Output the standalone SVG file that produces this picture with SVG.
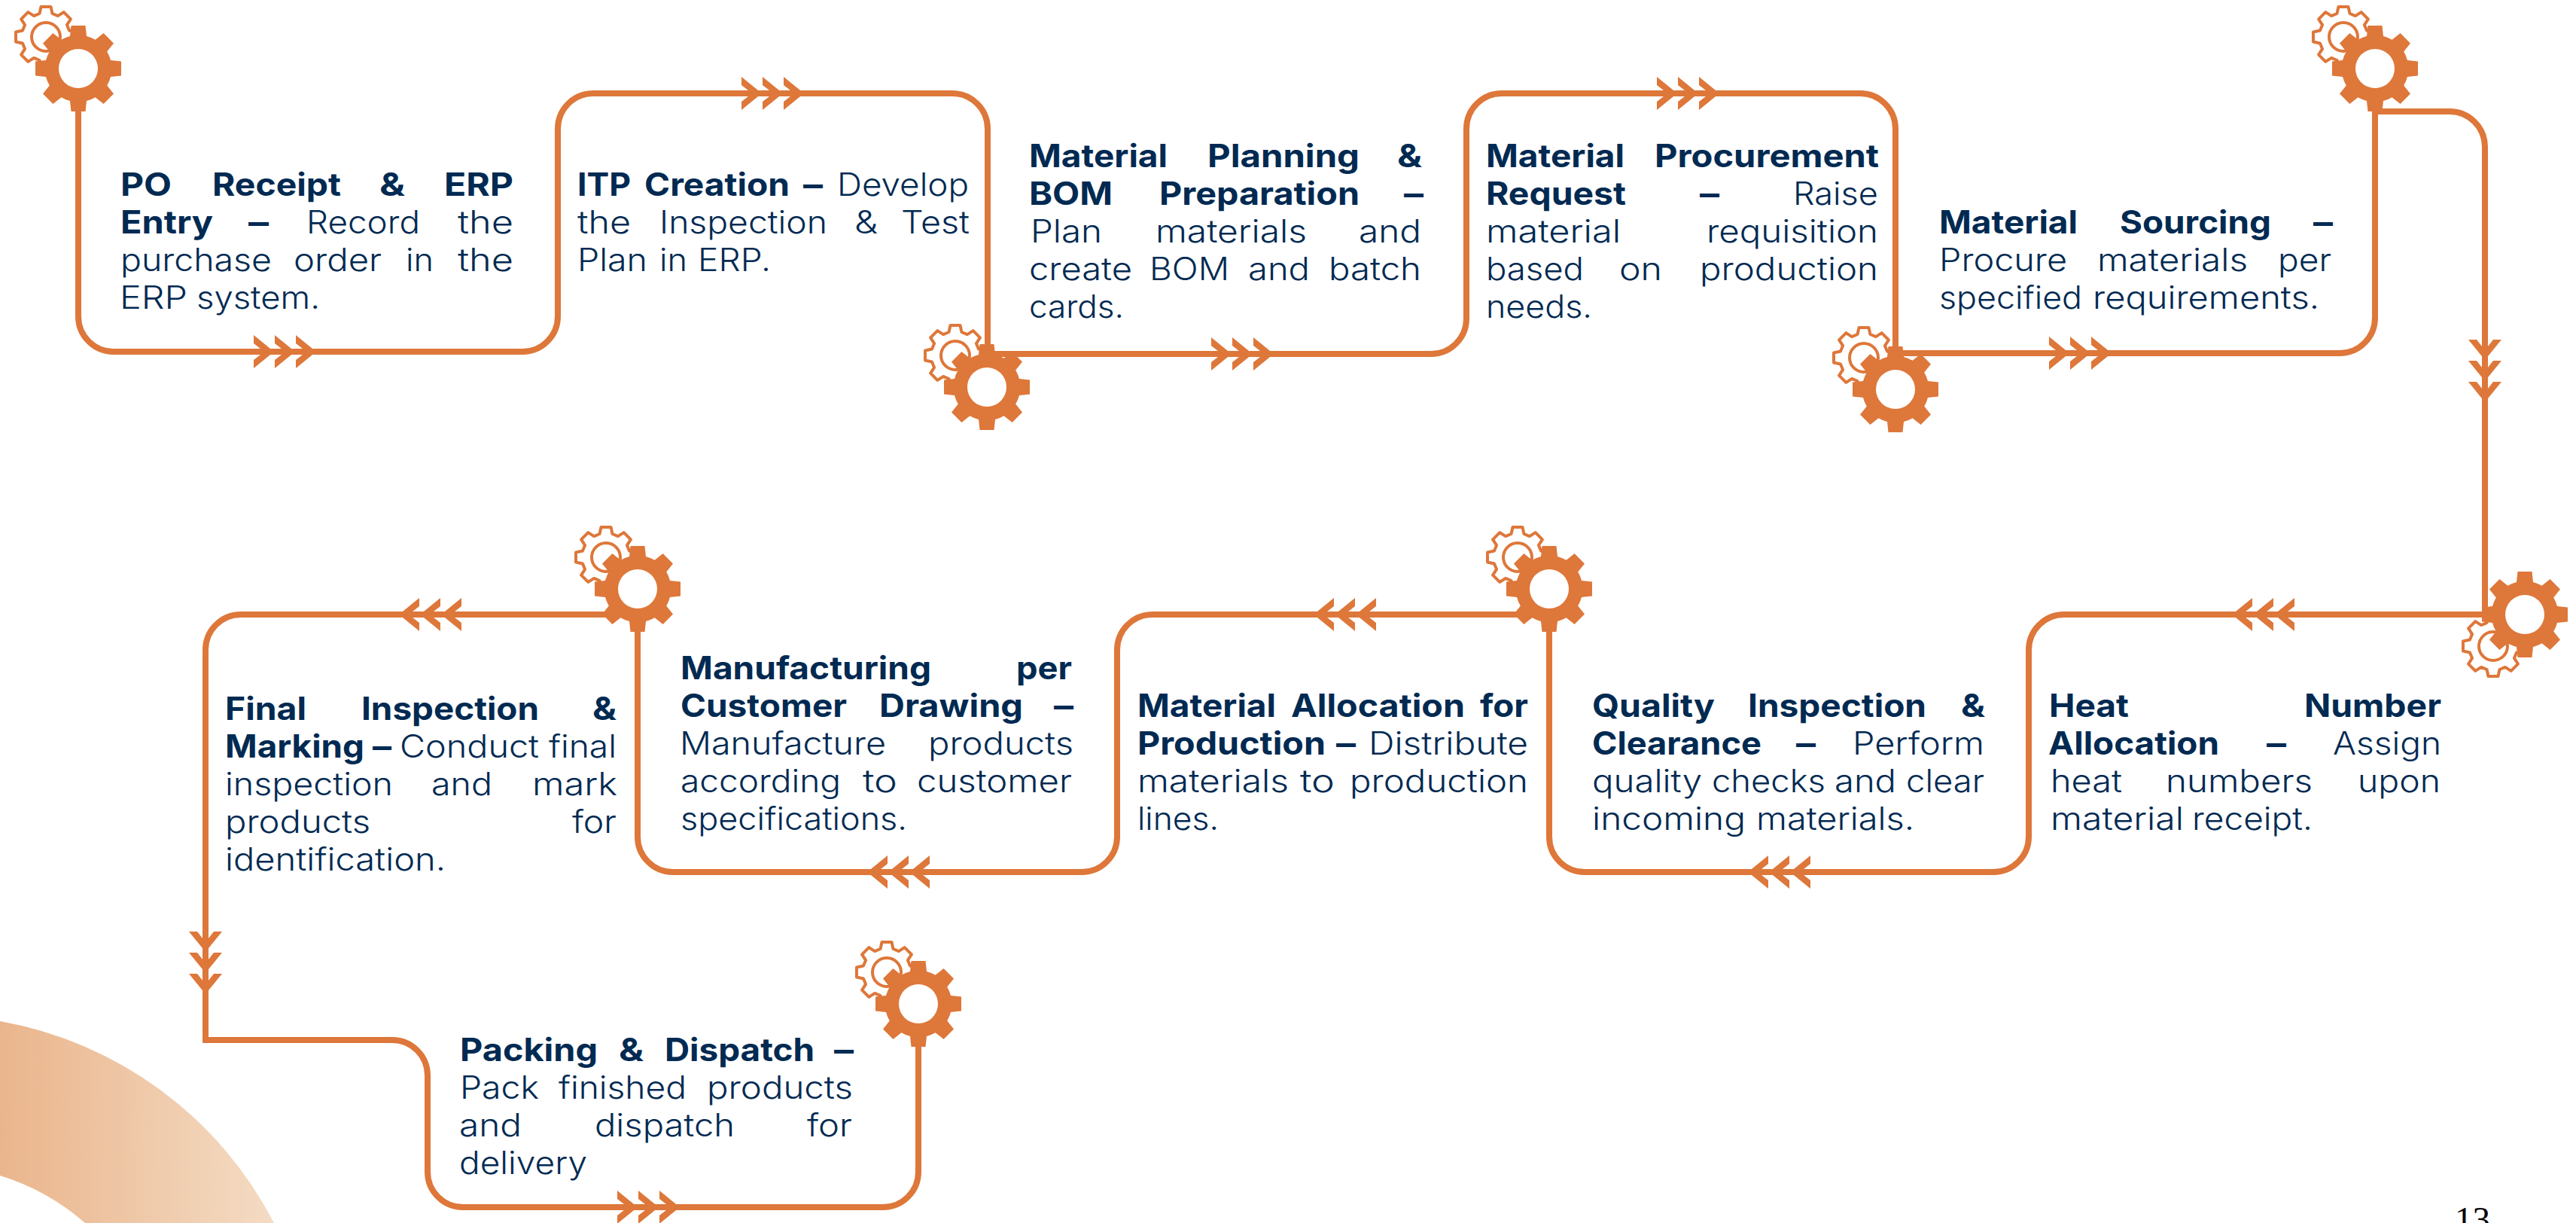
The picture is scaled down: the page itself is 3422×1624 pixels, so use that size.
<svg xmlns="http://www.w3.org/2000/svg" width="3422" height="1624" viewBox="0 0 3422 1624">
<style>
text{font-family:"Inter","Open Sans","Liberation Sans",sans-serif;font-size:42px;font-weight:300;fill:#012a52}
.b{font-weight:700}
.line{fill:none;stroke:#de773a;stroke-width:8}
.o{fill:#de773a}
.sg{fill:none;stroke:#de773a;stroke-width:4;stroke-linejoin:round}
text.pg{font-family:"Liberation Serif",serif;font-size:47px;font-weight:400;fill:#000}
</style>
<defs>
<linearGradient id="arcg" gradientUnits="userSpaceOnUse" x1="0" y1="0" x2="360" y2="0"><stop offset="0" stop-color="#eab58c"/><stop offset="1" stop-color="#f4dbc3"/></linearGradient>
<g id="gear"><circle r="27" fill="#fff"/><path class="o" fill-rule="evenodd" d="M-11,-43L-9.5,-57 9.5,-57 11,-43A44.4,44.4 0 0 1 22.6,-38.2L33.6,-47 47,-33.6 38.2,-22.6A44.4,44.4 0 0 1 43,-11L57,-9.5 57,9.5 43,11A44.4,44.4 0 0 1 38.2,22.6L47,33.6 33.6,47 22.6,38.2A44.4,44.4 0 0 1 11,43L9.5,57 -9.5,57 -11,43A44.4,44.4 0 0 1 -22.6,38.2L-33.6,47 -47,33.6 -38.2,22.6A44.4,44.4 0 0 1 -43,11L-57,9.5 -57,-9.5 -43,-11A44.4,44.4 0 0 1 -38.2,-22.6L-47,-33.6 -33.6,-47 -22.6,-38.2A44.4,44.4 0 0 1 -11,-43ZM26,0A26,26 0 1 0 -26,0A26,26 0 1 0 26,0Z"/></g>
<g id="sgear"><path class="sg" d="M-8.5,-31L-6.5,-40 6.5,-40 8.5,-31 15.9,-27.9 23.7,-32.9 32.9,-23.7 27.9,-15.9 31,-8.5 40,-6.5 40,6.5 31,8.5 27.9,15.9 32.9,23.7 23.7,32.9 15.9,27.9 8.5,31 6.5,40 -6.5,40 -8.5,31 -15.9,27.9 -23.7,32.9 -32.9,23.7 -27.9,15.9 -31,8.5 -40,6.5 -40,-6.5 -31,-8.5 -27.9,-15.9 -32.9,-23.7 -23.7,-32.9 -15.9,-27.9Z"/><circle class="sg" r="19"/></g>
<path id="ch" class="o" d="M0,-22L27,0 0,22 0,11 14,0 0,-11Z"/>
<g id="chev"><use href="#ch"/><use href="#ch" x="28"/><use href="#ch" x="56"/></g>
</defs>
<path id="bgarc" fill="url(#arcg)" d="M0,1356A510,510 0 0 1 364,1624H113A310,310 0 0 0 0,1561Z"/>
<g id="connectors">
<path class="line" d="M104,140V420A47,47 0 0 0 151,467H694A47,47 0 0 0 741,420V171A47,47 0 0 1 788,124H1265A47,47 0 0 1 1312,171V470H1901A47,47 0 0 0 1948,423V171A47,47 0 0 1 1995,124H2471A47,47 0 0 1 2518,171V469H3108A47,47 0 0 0 3155,422V90"/>
<path class="line" d="M3155,148H3254A47,47 0 0 1 3301,195V816"/>
<path class="line" d="M3301,816H2742A47,47 0 0 0 2695,863V1111A47,47 0 0 1 2648,1158H2105A47,47 0 0 1 2058,1111V816H1531A47,47 0 0 0 1484,863V1111A47,47 0 0 1 1437,1158H894A47,47 0 0 1 847,1111V816H320A47,47 0 0 0 273,863V1381H521A47,47 0 0 1 568,1428V1556A47,47 0 0 0 615,1603H1173A47,47 0 0 0 1220,1556V1380"/>
<use href="#chev" x="337" y="467"/>
<use href="#chev" x="985" y="124"/>
<use href="#chev" x="1609" y="470"/>
<use href="#chev" x="2201" y="124"/>
<use href="#chev" x="2722" y="469"/>
<use href="#chev" transform="translate(3301,451) rotate(90)"/>
<use href="#chev" transform="translate(3048,816) rotate(180)"/>
<use href="#chev" transform="translate(2405,1158) rotate(180)"/>
<use href="#chev" transform="translate(1828,816) rotate(180)"/>
<use href="#chev" transform="translate(1235,1158) rotate(180)"/>
<use href="#chev" transform="translate(613,816) rotate(180)"/>
<use href="#chev" transform="translate(273,1237) rotate(90)"/>
<use href="#chev" x="820" y="1603"/>
</g>
<g id="node1"><use href="#sgear" x="61" y="49"/><use href="#gear" x="104" y="91"/>
<text><tspan class="b" x="160" y="260" textLength="68" lengthAdjust="spacingAndGlyphs">PO</tspan> <tspan class="b" x="282" y="260" textLength="171" lengthAdjust="spacingAndGlyphs">Receipt</tspan> <tspan class="b" x="504" y="260" textLength="34" lengthAdjust="spacingAndGlyphs">&amp;</tspan> <tspan class="b" x="590" y="260" textLength="92" lengthAdjust="spacingAndGlyphs">ERP</tspan> <tspan class="b" x="160" y="310" textLength="123" lengthAdjust="spacingAndGlyphs">Entry</tspan> <tspan class="b" x="330" y="310" textLength="27" lengthAdjust="spacingAndGlyphs">–</tspan> <tspan x="407" y="310" textLength="151" lengthAdjust="spacingAndGlyphs">Record</tspan> <tspan x="608" y="310" textLength="74" lengthAdjust="spacingAndGlyphs">the</tspan> <tspan x="160" y="360" textLength="201" lengthAdjust="spacingAndGlyphs">purchase</tspan> <tspan x="390" y="360" textLength="117" lengthAdjust="spacingAndGlyphs">order</tspan> <tspan x="539" y="360" textLength="37" lengthAdjust="spacingAndGlyphs">in</tspan> <tspan x="608" y="360" textLength="74" lengthAdjust="spacingAndGlyphs">the</tspan> <tspan x="159" y="410" textLength="90" lengthAdjust="spacingAndGlyphs">ERP</tspan> <tspan x="261" y="410" textLength="164" lengthAdjust="spacingAndGlyphs">system.</tspan></text></g>
<g id="node2">
<text><tspan class="b" x="767" y="260" textLength="71" lengthAdjust="spacingAndGlyphs">ITP</tspan> <tspan class="b" x="856" y="260" textLength="193" lengthAdjust="spacingAndGlyphs">Creation</tspan> <tspan class="b" x="1067" y="260" textLength="26" lengthAdjust="spacingAndGlyphs">–</tspan> <tspan x="1112" y="260" textLength="175" lengthAdjust="spacingAndGlyphs">Develop</tspan> <tspan x="767" y="310" textLength="71" lengthAdjust="spacingAndGlyphs">the</tspan> <tspan x="876" y="310" textLength="223" lengthAdjust="spacingAndGlyphs">Inspection</tspan> <tspan x="1135" y="310" textLength="31" lengthAdjust="spacingAndGlyphs">&amp;</tspan> <tspan x="1197" y="310" textLength="91" lengthAdjust="spacingAndGlyphs">Test</tspan> <tspan x="767" y="360" textLength="93" lengthAdjust="spacingAndGlyphs">Plan</tspan> <tspan x="876" y="360" textLength="37" lengthAdjust="spacingAndGlyphs">in</tspan> <tspan x="927" y="360" textLength="97" lengthAdjust="spacingAndGlyphs">ERP.</tspan></text></g>
<g id="node3"><use href="#sgear" x="1269" y="472"/><use href="#gear" x="1311" y="514"/>
<text><tspan class="b" x="1367" y="222" textLength="184" lengthAdjust="spacingAndGlyphs">Material</tspan> <tspan class="b" x="1604" y="222" textLength="202" lengthAdjust="spacingAndGlyphs">Planning</tspan> <tspan class="b" x="1856" y="222" textLength="33" lengthAdjust="spacingAndGlyphs">&amp;</tspan> <tspan class="b" x="1367" y="272" textLength="111" lengthAdjust="spacingAndGlyphs">BOM</tspan> <tspan class="b" x="1540" y="272" textLength="266" lengthAdjust="spacingAndGlyphs">Preparation</tspan> <tspan class="b" x="1865" y="272" textLength="26" lengthAdjust="spacingAndGlyphs">–</tspan> <tspan x="1369" y="322" textLength="95" lengthAdjust="spacingAndGlyphs">Plan</tspan> <tspan x="1535" y="322" textLength="201" lengthAdjust="spacingAndGlyphs">materials</tspan> <tspan x="1805" y="322" textLength="83" lengthAdjust="spacingAndGlyphs">and</tspan> <tspan x="1367" y="372" textLength="137" lengthAdjust="spacingAndGlyphs">create</tspan> <tspan x="1527" y="372" textLength="106" lengthAdjust="spacingAndGlyphs">BOM</tspan> <tspan x="1658" y="372" textLength="82" lengthAdjust="spacingAndGlyphs">and</tspan> <tspan x="1765" y="372" textLength="123" lengthAdjust="spacingAndGlyphs">batch</tspan> <tspan x="1367" y="422" textLength="126" lengthAdjust="spacingAndGlyphs">cards.</tspan></text></g>
<g id="node4"><use href="#sgear" x="2476" y="475"/><use href="#gear" x="2518" y="517"/>
<text><tspan class="b" x="1974" y="222" textLength="184" lengthAdjust="spacingAndGlyphs">Material</tspan> <tspan class="b" x="2198" y="222" textLength="298" lengthAdjust="spacingAndGlyphs">Procurement</tspan> <tspan class="b" x="1974" y="272" textLength="186" lengthAdjust="spacingAndGlyphs">Request</tspan> <tspan class="b" x="2258" y="272" textLength="26" lengthAdjust="spacingAndGlyphs">–</tspan> <tspan x="2382" y="272" textLength="113" lengthAdjust="spacingAndGlyphs">Raise</tspan> <tspan x="1974" y="322" textLength="179" lengthAdjust="spacingAndGlyphs">material</tspan> <tspan x="2267" y="322" textLength="228" lengthAdjust="spacingAndGlyphs">requisition</tspan> <tspan x="1974" y="372" textLength="130" lengthAdjust="spacingAndGlyphs">based</tspan> <tspan x="2151" y="372" textLength="57" lengthAdjust="spacingAndGlyphs">on</tspan> <tspan x="2258" y="372" textLength="237" lengthAdjust="spacingAndGlyphs">production</tspan> <tspan x="1974" y="422" textLength="141" lengthAdjust="spacingAndGlyphs">needs.</tspan></text></g>
<g id="node5"><use href="#sgear" x="3113" y="49"/><use href="#gear" x="3155" y="91"/>
<text><tspan class="b" x="2576" y="310" textLength="184" lengthAdjust="spacingAndGlyphs">Material</tspan> <tspan class="b" x="2816" y="310" textLength="201" lengthAdjust="spacingAndGlyphs">Sourcing</tspan> <tspan class="b" x="3073" y="310" textLength="26" lengthAdjust="spacingAndGlyphs">–</tspan> <tspan x="2576" y="360" textLength="170" lengthAdjust="spacingAndGlyphs">Procure</tspan> <tspan x="2786" y="360" textLength="200" lengthAdjust="spacingAndGlyphs">materials</tspan> <tspan x="3026" y="360" textLength="71" lengthAdjust="spacingAndGlyphs">per</tspan> <tspan x="2576" y="410" textLength="190" lengthAdjust="spacingAndGlyphs">specified</tspan> <tspan x="2780" y="410" textLength="301" lengthAdjust="spacingAndGlyphs">requirements.</tspan></text></g>
<g id="node6"><use href="#sgear" x="3312" y="858"/><use href="#gear" x="3354" y="816"/>
<text><tspan class="b" x="2722" y="952" textLength="106" lengthAdjust="spacingAndGlyphs">Heat</tspan> <tspan class="b" x="3061" y="952" textLength="182" lengthAdjust="spacingAndGlyphs">Number</tspan> <tspan class="b" x="2721" y="1002" textLength="227" lengthAdjust="spacingAndGlyphs">Allocation</tspan> <tspan class="b" x="3011" y="1002" textLength="26" lengthAdjust="spacingAndGlyphs">–</tspan> <tspan x="3099" y="1002" textLength="144" lengthAdjust="spacingAndGlyphs">Assign</tspan> <tspan x="2724" y="1052" textLength="95" lengthAdjust="spacingAndGlyphs">heat</tspan> <tspan x="2877" y="1052" textLength="195" lengthAdjust="spacingAndGlyphs">numbers</tspan> <tspan x="3132" y="1052" textLength="110" lengthAdjust="spacingAndGlyphs">upon</tspan> <tspan x="2724" y="1102" textLength="177" lengthAdjust="spacingAndGlyphs">material</tspan> <tspan x="2912" y="1102" textLength="160" lengthAdjust="spacingAndGlyphs">receipt.</tspan></text></g>
<g id="node7"><use href="#sgear" x="2016" y="740"/><use href="#gear" x="2058" y="782"/>
<text><tspan class="b" x="2115" y="952" textLength="163" lengthAdjust="spacingAndGlyphs">Quality</tspan> <tspan class="b" x="2322" y="952" textLength="237" lengthAdjust="spacingAndGlyphs">Inspection</tspan> <tspan class="b" x="2605" y="952" textLength="32" lengthAdjust="spacingAndGlyphs">&amp;</tspan> <tspan class="b" x="2115" y="1002" textLength="225" lengthAdjust="spacingAndGlyphs">Clearance</tspan> <tspan class="b" x="2386" y="1002" textLength="26" lengthAdjust="spacingAndGlyphs">–</tspan> <tspan x="2461" y="1002" textLength="175" lengthAdjust="spacingAndGlyphs">Perform</tspan> <tspan x="2115" y="1052" textLength="146" lengthAdjust="spacingAndGlyphs">quality</tspan> <tspan x="2274" y="1052" textLength="151" lengthAdjust="spacingAndGlyphs">checks</tspan> <tspan x="2437" y="1052" textLength="82" lengthAdjust="spacingAndGlyphs">and</tspan> <tspan x="2532" y="1052" textLength="104" lengthAdjust="spacingAndGlyphs">clear</tspan> <tspan x="2115" y="1102" textLength="204" lengthAdjust="spacingAndGlyphs">incoming</tspan> <tspan x="2333" y="1102" textLength="210" lengthAdjust="spacingAndGlyphs">materials.</tspan></text></g>
<g id="node8">
<text><tspan class="b" x="1511" y="952" textLength="184" lengthAdjust="spacingAndGlyphs">Material</tspan> <tspan class="b" x="1715" y="952" textLength="231" lengthAdjust="spacingAndGlyphs">Allocation</tspan> <tspan class="b" x="1966" y="952" textLength="64" lengthAdjust="spacingAndGlyphs">for</tspan> <tspan class="b" x="1511" y="1002" textLength="250" lengthAdjust="spacingAndGlyphs">Production</tspan> <tspan class="b" x="1775" y="1002" textLength="26" lengthAdjust="spacingAndGlyphs">–</tspan> <tspan x="1818" y="1002" textLength="212" lengthAdjust="spacingAndGlyphs">Distribute</tspan> <tspan x="1511" y="1052" textLength="201" lengthAdjust="spacingAndGlyphs">materials</tspan> <tspan x="1727" y="1052" textLength="46" lengthAdjust="spacingAndGlyphs">to</tspan> <tspan x="1793" y="1052" textLength="237" lengthAdjust="spacingAndGlyphs">production</tspan> <tspan x="1511" y="1102" textLength="108" lengthAdjust="spacingAndGlyphs">lines.</tspan></text></g>
<g id="node9"><use href="#sgear" x="805" y="740"/><use href="#gear" x="847" y="782"/>
<text><tspan class="b" x="904" y="902" textLength="333" lengthAdjust="spacingAndGlyphs">Manufacturing</tspan> <tspan class="b" x="1350" y="902" textLength="74" lengthAdjust="spacingAndGlyphs">per</tspan> <tspan class="b" x="904" y="952" textLength="221" lengthAdjust="spacingAndGlyphs">Customer</tspan> <tspan class="b" x="1168" y="952" textLength="191" lengthAdjust="spacingAndGlyphs">Drawing</tspan> <tspan class="b" x="1400" y="952" textLength="26" lengthAdjust="spacingAndGlyphs">–</tspan> <tspan x="903" y="1002" textLength="274" lengthAdjust="spacingAndGlyphs">Manufacture</tspan> <tspan x="1233" y="1002" textLength="193" lengthAdjust="spacingAndGlyphs">products</tspan> <tspan x="904" y="1052" textLength="213" lengthAdjust="spacingAndGlyphs">according</tspan> <tspan x="1146" y="1052" textLength="46" lengthAdjust="spacingAndGlyphs">to</tspan> <tspan x="1218" y="1052" textLength="206" lengthAdjust="spacingAndGlyphs">customer</tspan> <tspan x="904" y="1102" textLength="301" lengthAdjust="spacingAndGlyphs">specifications.</tspan></text></g>
<g id="node10">
<text><tspan class="b" x="299" y="956" textLength="108" lengthAdjust="spacingAndGlyphs">Final</tspan> <tspan class="b" x="480" y="956" textLength="236" lengthAdjust="spacingAndGlyphs">Inspection</tspan> <tspan class="b" x="787" y="956" textLength="32" lengthAdjust="spacingAndGlyphs">&amp;</tspan> <tspan class="b" x="299" y="1006" textLength="185" lengthAdjust="spacingAndGlyphs">Marking</tspan> <tspan class="b" x="495" y="1006" textLength="25" lengthAdjust="spacingAndGlyphs">–</tspan> <tspan x="531" y="1006" textLength="185" lengthAdjust="spacingAndGlyphs">Conduct</tspan> <tspan x="729" y="1006" textLength="90" lengthAdjust="spacingAndGlyphs">final</tspan> <tspan x="299" y="1056" textLength="223" lengthAdjust="spacingAndGlyphs">inspection</tspan> <tspan x="573" y="1056" textLength="81" lengthAdjust="spacingAndGlyphs">and</tspan> <tspan x="707" y="1056" textLength="113" lengthAdjust="spacingAndGlyphs">mark</tspan> <tspan x="299" y="1106" textLength="193" lengthAdjust="spacingAndGlyphs">products</tspan> <tspan x="760" y="1106" textLength="59" lengthAdjust="spacingAndGlyphs">for</tspan> <tspan x="299" y="1156" textLength="293" lengthAdjust="spacingAndGlyphs">identification.</tspan></text></g>
<g id="node11"><use href="#sgear" x="1178" y="1291"/><use href="#gear" x="1220" y="1333"/>
<text><tspan class="b" x="611" y="1409" textLength="183" lengthAdjust="spacingAndGlyphs">Packing</tspan> <tspan class="b" x="822" y="1409" textLength="33" lengthAdjust="spacingAndGlyphs">&amp;</tspan> <tspan class="b" x="883" y="1409" textLength="199" lengthAdjust="spacingAndGlyphs">Dispatch</tspan> <tspan class="b" x="1108" y="1409" textLength="26" lengthAdjust="spacingAndGlyphs">–</tspan> <tspan x="611" y="1459" textLength="105" lengthAdjust="spacingAndGlyphs">Pack</tspan> <tspan x="742" y="1459" textLength="170" lengthAdjust="spacingAndGlyphs">finished</tspan> <tspan x="939" y="1459" textLength="194" lengthAdjust="spacingAndGlyphs">products</tspan> <tspan x="610" y="1509" textLength="83" lengthAdjust="spacingAndGlyphs">and</tspan> <tspan x="790" y="1509" textLength="186" lengthAdjust="spacingAndGlyphs">dispatch</tspan> <tspan x="1072" y="1509" textLength="60" lengthAdjust="spacingAndGlyphs">for</tspan> <tspan x="610" y="1559" textLength="170" lengthAdjust="spacingAndGlyphs">delivery</tspan></text></g>
<text class="pg" x="3261" y="1635" id="pagenum">13</text>
</svg>
